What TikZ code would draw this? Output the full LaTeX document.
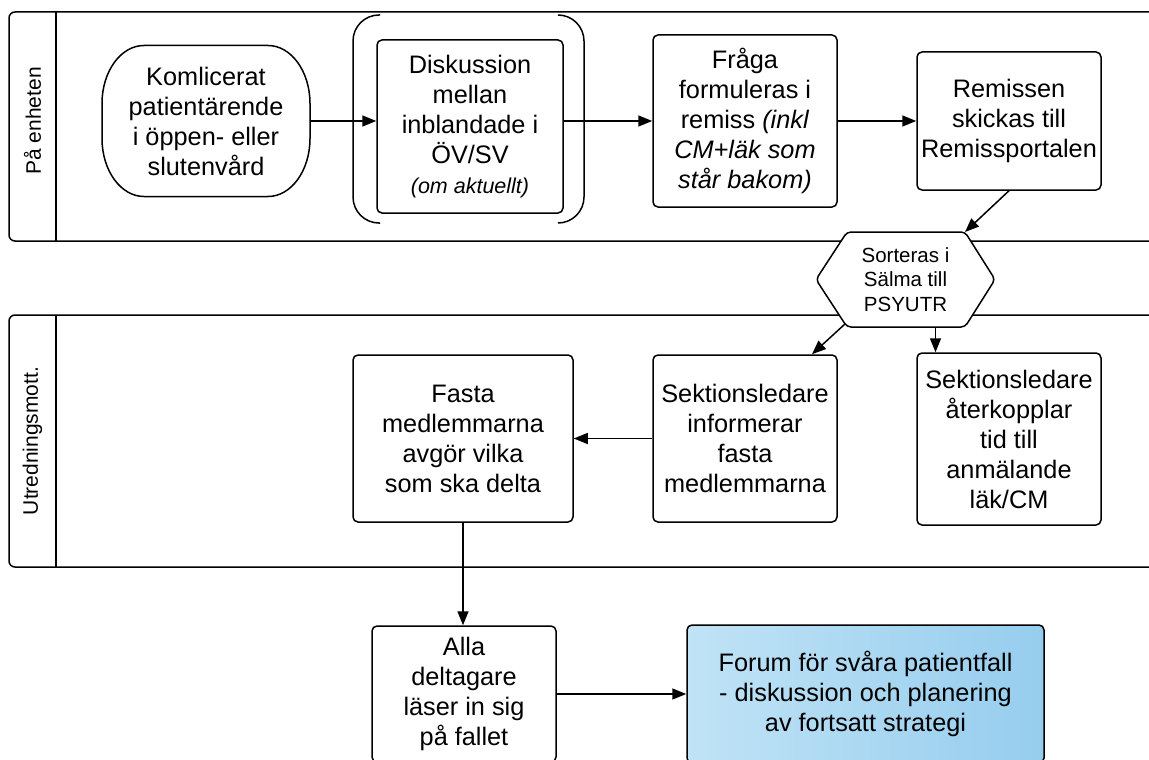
\documentclass[tikz,border=0pt]{standalone}
\usepackage{fontspec}
\setmainfont{Liberation Sans}
\usetikzlibrary{arrows.meta,calc}

\begin{document}
\begin{tikzpicture}[x=1pt,y=-1pt,
    box/.style={draw, line width=1.5pt, rounded corners=5pt, fill=white, align=center, inner sep=0pt, font=\fontsize{25.3}{30}\selectfont},
    arr/.style={line width=1.5pt, -{Triangle[length=14pt,width=11pt]}},
    lane/.style={line width=1.5pt, rounded corners=6pt},
    lanelabel/.style={rotate=90, font=\fontsize{21}{25}\selectfont}]
    \clip (0,0) rectangle (1149,760);
    \useasboundingbox (0,0) rectangle (1149,760);
    % swimlanes
    \draw[lane] (1170,12) -- (9,12) -- (9,241) -- (1170,241);
    \draw[line width=1.5pt] (56,12) -- (56,241);
    \node[lanelabel] (enheten) at (32.5,121) {På enheten};
    \draw[lane] (1170,315) -- (9,315) -- (9,567) -- (1170,567);
    \draw[line width=1.5pt] (56,315) -- (56,567);
    \node[lanelabel] (utredning) at (32.5,441) {Utredningsmott.};
    % first lane
    \node[align=center, inner sep=0pt, minimum width=208pt, minimum height=151pt, font=\fontsize{25.3}{30}\selectfont] (start) at (206,121) {Komlicerat\\patientärende\\i öppen- eller\\slutenvård};
    \draw[line width=1.5pt] ($(start.center)+(-62,-75.5)$) -- ++(124,0) arc[start angle=90, end angle=0, x radius=42pt, y radius=58pt] -- ++(0,35) arc[start angle=0, end angle=-90, x radius=42pt, y radius=58pt] -- ++(-124,0) arc[start angle=270, end angle=180, x radius=42pt, y radius=58pt] -- ++(0,-35) arc[start angle=180, end angle=90, x radius=42pt, y radius=58pt] -- cycle;
    \node[box, minimum width=186pt, minimum height=173pt] (disk) at (470,126.5) {Diskussion\\mellan\\inblandade i\\ÖV/SV\\{\fontsize{21.5}{27}\selectfont\itshape (om aktuellt)}};
    \draw[line width=1.5pt, rounded corners=26pt] (380,15) -- (353,15) -- (353,223) -- (380,223);
    \draw[line width=1.5pt, rounded corners=26pt] (558,15) -- (584,15) -- (584,223) -- (558,223);
    \node[box, minimum width=184pt, minimum height=172pt] (fraga) at (745,121) {Fråga\\formuleras i\\remiss \textit{(inkl}\\\textit{CM+läk som}\\\textit{står bakom)}};
    \node[box, minimum width=184pt, minimum height=138pt] (remiss) at (1009,121) {Remissen\\skickas till\\Remissportalen};
    % second lane
    \node[box, minimum width=220pt, minimum height=167pt] (fasta) at (463,438.5) {Fasta\\medlemmarna\\avgör vilka\\som ska delta};
    \node[box, minimum width=184pt, minimum height=167pt] (inform) at (745,438.5) {Sektionsledare\\informerar\\fasta\\medlemmarna};
    \node[box, minimum width=184pt, minimum height=172pt] (aterk) at (1009,439) {Sektionsledare\\återkopplar\\tid till\\anmälande\\läk/CM};
    % below the lanes
    \node[box, minimum width=184pt, minimum height=136pt] (alla) at (464,694) {Alla\\deltagare\\läser in sig\\på fallet};
    \definecolor{forumleft}{RGB}{192,227,246}
    \definecolor{forumright}{RGB}{150,205,238}
    \node[box, minimum width=357pt, minimum height=138pt, left color=forumleft, right color=forumright] (forum) at (865.5,694) {Forum för svåra patientfall\\- diskussion och planering\\av fortsatt strategi};
    % sorting hexagon
    \coordinate (hexc) at (905.5,279.5);
    \draw[line width=1.5pt, rounded corners=4pt, fill=white] ($(hexc)+(-89.5,0)$) -- ++(31,-47.5) -- ++(118,0) -- ++(30,47.5) -- ++(-30,47.5) -- ++(-118,0) -- cycle;
    \node[align=center, inner sep=0pt, font=\fontsize{20.5}{24.5}\selectfont] (hex) at (hexc) {Sorteras i\\Sälma till\\PSYUTR};
    \coordinate (hexne) at ($(hexc)+(59.5,-47.5)$);
    \coordinate (hexsw) at ($(hexc)+(-60,44)$);
    \coordinate (hexs) at ($(hexc)+(30,47.5)$);
    \coordinate (informne) at ($(inform.north)+(67,0)$);
    % arrows
    \draw[arr] (start.east) -- (start.east -| disk.west);
    \draw[arr] (disk.east |- fraga.west) -- (fraga.west);
    \draw[arr] (fraga.east) -- (remiss.west);
    \draw[arr] (remiss.south) -- (hexne);
    \draw[arr] (hexsw) -- (informne);
    \draw[arr] (hexs) -- (hexs |- aterk.north);
    \draw[arr] (inform.west) -- (fasta.east);
    \draw[arr] (fasta.south) -- (fasta.south |- alla.north);
    \draw[arr] (alla.east) -- (alla.east -| forum.west);
\end{tikzpicture}
\end{document}
